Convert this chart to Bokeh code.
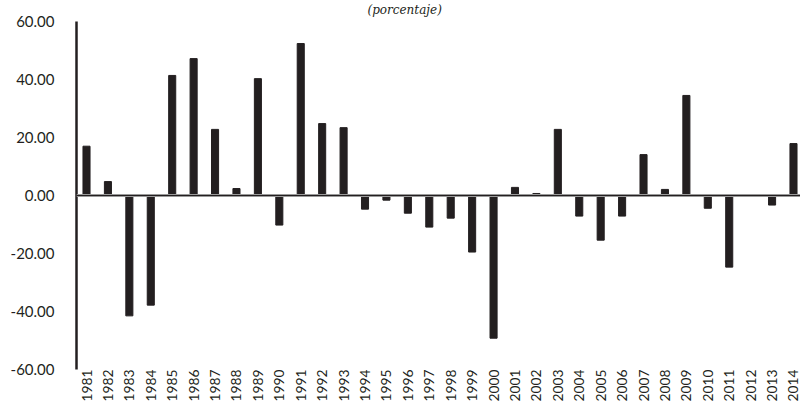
import math
from bokeh.plotting import figure
from bokeh.models import Range1d, FixedTicker, NumeralTickFormatter, Span, Label, ColumnDataSource
from bokeh.core.properties import value
from bokeh.embed import file_html
from bokeh.resources import INLINE

years = list(range(1981, 2015))
year_labels = [str(y) for y in years]
values = [17.0, 4.8, -41.5, -37.8, 41.4, 47.2, 22.8, 2.4, 40.3, -10.2,
          52.4, 24.8, 23.4, -4.7, -1.6, -6.1, -10.9, -7.8, -19.5, -49.2,
          2.8, 0.7, 22.8, -7.1, -15.4, -7.1, 14.1, 2.1, 34.5, -4.4,
          -24.7, 0.0, -3.3, 17.9]
y_ticks = [-60, -40, -20, 0, 20, 40, 60]
title_text = "(porcentaje)"

y_min, y_max = min(y_ticks), max(y_ticks)
# extra room (in data units) below for year labels and above for the note
pad_below = 11.03
pad_above = 7.24

src = ColumnDataSource(dict(x=years, top=values))
lab = ColumnDataSource(dict(x=years, y=[y_min] * len(years), t=year_labels))

p = figure(width=800, height=401, output_backend="svg", toolbar_location=None,
           x_range=Range1d(1980.533, 2014.327),
           y_range=Range1d(y_min - pad_below, y_max + pad_above),
           min_border_left=76, min_border_right=0, min_border_top=0, min_border_bottom=0)
p.outline_line_color = None
p.xgrid.visible = False
p.ygrid.visible = False
p.xaxis.visible = False
p.background_fill_color = "white"
p.border_fill_color = "white"

# zero line
p.add_layout(Span(location=0, dimension="width", line_color="#9a9a9a", line_width=3))
p.add_layout(Span(location=0, dimension="width", line_color="#231f20", line_width=1.2))

p.vbar(x="x", top="top", bottom=0, width=0.33, source=src, color="#231f20")

# y axis
ya = p.yaxis[0]
ya.ticker = FixedTicker(ticks=y_ticks)
ya.bounds = (y_min, y_max)
ya.formatter = NumeralTickFormatter(format="0.00")
ya.axis_line_color = "#231f20"
ya.axis_line_width = 2.5
ya.major_tick_line_color = None
ya.minor_tick_line_color = None
ya.major_tick_out = 0
ya.major_tick_in = 0
ya.major_label_standoff = 22
ya.major_label_text_font = "Lato"
ya.major_label_text_font_size = "15px"
ya.major_label_text_color = "#231f20"

# year labels (vertical, reading bottom-to-top) at the bottom of the value axis
p.text(x="x", y="y", text="t", source=lab, angle=math.pi / 2,
       text_align="right", text_baseline="middle",
       text_font=value("Lato"), text_font_size="13.8px", text_color="#231f20")

p.add_layout(Label(x=1995.85, y=y_max, y_offset=4, text=title_text, text_align="center",
                   text_baseline="bottom",
                   text_font="DejaVu Serif", text_font_style="italic", text_font_size="12px",
                   text_color="#231f20"))

open("out.html", "w").write(file_html(p, INLINE))
